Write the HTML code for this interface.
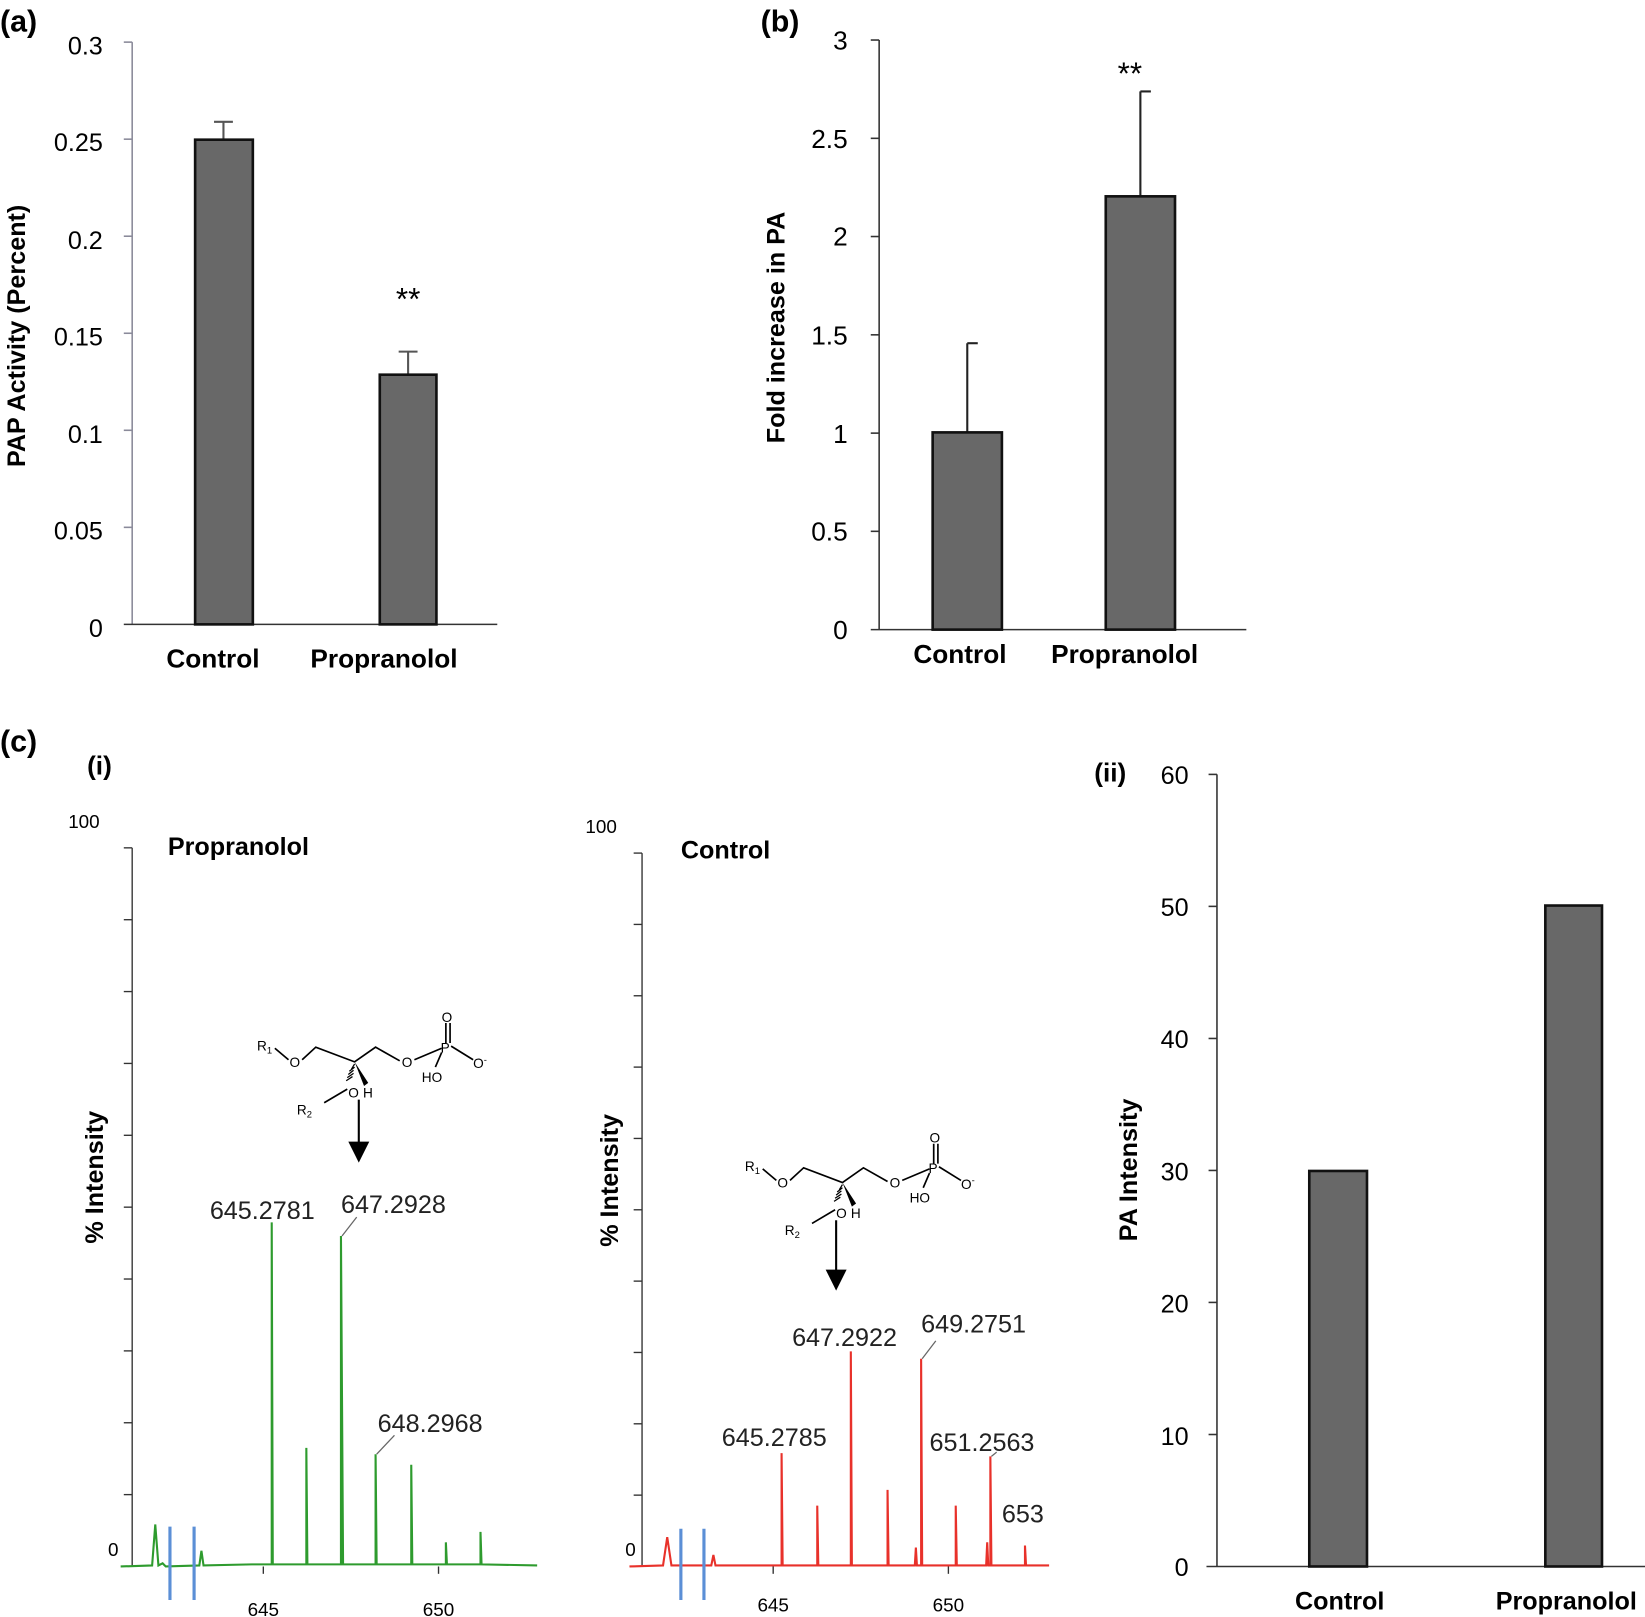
<!DOCTYPE html>
<html><head><meta charset="utf-8"><style>
html,body{margin:0;padding:0;background:#fff;}
svg{display:block;font-family:"Liberation Sans",sans-serif;}
.b{font-weight:bold;}
</style></head><body>
<svg width="1645" height="1617" viewBox="0 0 1568 1541" xmlns="http://www.w3.org/2000/svg">
<defs>
<g id="mol" font-size="13" fill="#000" stroke="none">
  <text x="0" y="36">R<tspan font-size="9" dy="3">1</tspan></text>
  <path d="M17 34 L30 45 M43 45 L56 33 L93 47 L113 33 L136 46 M150 45 L176 34 M185 32 L206 45 M180 29 L180 10 M184 29 L184 10 M176 38 L170 52 M86 73 L64 86" stroke="#000" stroke-width="1.6" fill="none"/>
  <text x="31" y="52">O</text>
  <text x="138" y="52">O</text>
  <text x="175" y="38">P</text>
  <text x="176" y="9">O</text>
  <text x="206" y="53">O<tspan font-size="9" dy="-5">-</tspan></text>
  <text x="157" y="66">HO</text>
  <text x="87" y="81">O</text>
  <text x="101" y="81">H</text>
  <text x="38" y="97">R<tspan font-size="9" dy="3">2</tspan></text>
  <path d="M93 47 L102 70 L106 67 Z" fill="#000"/>
  <path d="M93 49 L90 54 M93 52 L88 56 M92 55 L87 59 M92 58 L86 62 M91 61 L85 65" stroke="#000" stroke-width="1.2"/>
</g>
</defs>

<!-- Panel a -->
<text x="0" y="30" class="b" font-size="29">(a)</text>
<g stroke="#8a8a9a" stroke-width="1.5">
<line x1="126" y1="40" x2="126" y2="595"/>
<line x1="118" y1="595" x2="474" y2="595" stroke="#333"/>
<line x1="118" y1="40" x2="126" y2="40"/><line x1="118" y1="132.5" x2="126" y2="132.5"/><line x1="118" y1="225" x2="126" y2="225"/><line x1="118" y1="317.5" x2="126" y2="317.5"/><line x1="118" y1="410" x2="126" y2="410"/><line x1="118" y1="502.5" x2="126" y2="502.5"/>
</g>
<g font-size="24" text-anchor="end">
<text x="98" y="52">0.3</text><text x="98" y="144">0.25</text><text x="98" y="237">0.2</text><text x="98" y="329">0.15</text><text x="98" y="422">0.1</text><text x="98" y="514">0.05</text><text x="98" y="607">0</text>
</g>
<g stroke="#555" stroke-width="2"><line x1="213" y1="133" x2="213" y2="116"/><line x1="204" y1="116" x2="222" y2="116"/><line x1="389" y1="357" x2="389" y2="335"/><line x1="380" y1="335" x2="398" y2="335"/></g>
<rect x="186" y="133" width="55" height="462" fill="#686868" stroke="#111" stroke-width="2.5"/>
<rect x="362" y="357" width="54" height="238" fill="#686868" stroke="#111" stroke-width="2.5"/>
<text x="389" y="295" font-size="30" text-anchor="middle">**</text>
<g class="b" font-size="25" text-anchor="middle"><text x="203" y="636">Control</text><text x="366" y="636">Propranolol</text></g>
<text transform="translate(24,320) rotate(-90)" class="b" font-size="24" text-anchor="middle">PAP Activity (Percent)</text>

<!-- Panel b -->
<text x="725" y="30" class="b" font-size="29">(b)</text>
<g stroke="#333" stroke-width="1.5">
<line x1="838" y1="38" x2="838" y2="600"/>
<line x1="830" y1="600" x2="1188" y2="600"/>
<line x1="830" y1="38" x2="838" y2="38"/><line x1="830" y1="131.7" x2="838" y2="131.7"/><line x1="830" y1="225.3" x2="838" y2="225.3"/><line x1="830" y1="319" x2="838" y2="319"/><line x1="830" y1="412.7" x2="838" y2="412.7"/><line x1="830" y1="506.3" x2="838" y2="506.3"/>
</g>
<g font-size="25" text-anchor="end">
<text x="808" y="47">3</text><text x="808" y="141">2.5</text><text x="808" y="234">2</text><text x="808" y="328">1.5</text><text x="808" y="422">1</text><text x="808" y="515">0.5</text><text x="808" y="609">0</text>
</g>
<g stroke="#222" stroke-width="2"><line x1="922" y1="412" x2="922" y2="327"/><line x1="922" y1="327" x2="932" y2="327"/><line x1="1087" y1="187" x2="1087" y2="87"/><line x1="1087" y1="87" x2="1097" y2="87"/></g>
<rect x="889" y="412" width="66" height="188" fill="#686868" stroke="#111" stroke-width="2.5"/>
<rect x="1054" y="187" width="66" height="413" fill="#686868" stroke="#111" stroke-width="2.5"/>
<text x="1077" y="80" font-size="30" text-anchor="middle">**</text>
<g class="b" font-size="25" text-anchor="middle"><text x="915" y="632">Control</text><text x="1072" y="632">Propranolol</text></g>
<text transform="translate(748,312) rotate(-90)" class="b" font-size="24" text-anchor="middle">Fold increase in PA</text>

<!-- Panel c labels -->
<text x="0" y="716" class="b" font-size="29">(c)</text>
<text x="83" y="738" class="b" font-size="25">(i)</text>
<text x="1043" y="745" class="b" font-size="25">(ii)</text>

<!-- Spectrum left (Propranolol) -->
<g stroke="#333" stroke-width="1.3">
<line x1="126" y1="808" x2="126" y2="1493"/>
<line x1="118" y1="808" x2="126" y2="808"/><line x1="118" y1="876.5" x2="126" y2="876.5"/><line x1="118" y1="945" x2="126" y2="945"/><line x1="118" y1="1013.5" x2="126" y2="1013.5"/><line x1="118" y1="1082" x2="126" y2="1082"/><line x1="118" y1="1150.5" x2="126" y2="1150.5"/><line x1="118" y1="1219" x2="126" y2="1219"/><line x1="118" y1="1287.5" x2="126" y2="1287.5"/><line x1="118" y1="1356" x2="126" y2="1356"/><line x1="118" y1="1424.5" x2="126" y2="1424.5"/>
<line x1="251" y1="1493" x2="251" y2="1500"/><line x1="418" y1="1493" x2="418" y2="1500"/>
</g>
<g stroke="#2e9b2e" stroke-width="2" fill="none">
<polyline points="115,1493 145,1492 148,1453 151,1492 155,1490 158,1493 190,1492 192,1478 194,1492 240,1491 259,1491 259,1165 260,1491 292,1491 292,1380 293,1491 325,1491 325,1178 327,1491 358,1491 358,1386 359,1491 392,1491 392,1396 393,1491 425,1491 425,1470 426,1491 458,1491 458,1460 459,1491 512,1492"/>
</g>
<g stroke="#5b8fd6" stroke-width="3"><line x1="162" y1="1455" x2="162" y2="1525"/><line x1="185" y1="1455" x2="185" y2="1525"/></g>
<g stroke="#666" stroke-width="1.2"><line x1="326" y1="1178" x2="340" y2="1160"/><line x1="359" y1="1386" x2="376" y2="1368"/></g>
<g font-size="24" fill="#222"><text x="200" y="1162">645.2781</text><text x="325" y="1156">647.2928</text><text x="360" y="1365">648.2968</text></g>
<g font-size="18"><text x="65" y="789">100</text><text x="103" y="1483">0</text><text x="251" y="1540" text-anchor="middle">645</text><text x="418" y="1540" text-anchor="middle">650</text></g>
<text x="160" y="815" class="b" font-size="24">Propranolol</text>
<text transform="translate(98,1122) rotate(-90)" class="b" font-size="24" text-anchor="middle">% Intensity</text>
<use href="#mol" transform="translate(245,965)"/>
<line x1="342" y1="1048" x2="342" y2="1090" stroke="#000" stroke-width="2"/>
<path d="M332 1088 L352 1088 L342 1108 Z" fill="#000"/>

<!-- Spectrum right (Control) -->
<g stroke="#333" stroke-width="1.3">
<line x1="612" y1="813" x2="612" y2="1493"/>
<line x1="604" y1="813" x2="612" y2="813"/><line x1="604" y1="881" x2="612" y2="881"/><line x1="604" y1="949" x2="612" y2="949"/><line x1="604" y1="1017" x2="612" y2="1017"/><line x1="604" y1="1085" x2="612" y2="1085"/><line x1="604" y1="1153" x2="612" y2="1153"/><line x1="604" y1="1221" x2="612" y2="1221"/><line x1="604" y1="1289" x2="612" y2="1289"/><line x1="604" y1="1357" x2="612" y2="1357"/><line x1="604" y1="1425" x2="612" y2="1425"/>
<line x1="737" y1="1493" x2="737" y2="1500"/><line x1="904" y1="1493" x2="904" y2="1500"/>
</g>
<g stroke="#e8312a" stroke-width="2" fill="none">
<polyline points="600,1493 632,1492 636,1465 640,1492 678,1492 680,1482 682,1492 745,1492 745,1385 746,1492 779,1492 779,1435 780,1492 811,1492 811,1288 812,1492 846,1492 846,1420 847,1492 872,1492 873,1475 874,1492 878,1492 878,1295 879,1492 911,1492 911,1435 912,1492 940,1492 941,1470 942,1492 944,1492 944,1388 945,1492 977,1492 977,1473 978,1492 1000,1492"/>
</g>
<g stroke="#5b8fd6" stroke-width="3"><line x1="649" y1="1457" x2="649" y2="1525"/><line x1="671" y1="1457" x2="671" y2="1525"/></g>
<g stroke="#666" stroke-width="1.2"><line x1="879" y1="1295" x2="892" y2="1278"/><line x1="945" y1="1388" x2="950" y2="1384"/></g>
<g font-size="24" fill="#222"><text x="688" y="1378">645.2785</text><text x="755" y="1283">647.2922</text><text x="878" y="1270">649.2751</text><text x="886" y="1383">651.2563</text><text x="955" y="1451">653</text></g>
<g font-size="18"><text x="558" y="794">100</text><text x="596" y="1483">0</text><text x="737" y="1536" text-anchor="middle">645</text><text x="904" y="1536" text-anchor="middle">650</text></g>
<text x="649" y="818" class="b" font-size="24">Control</text>
<text transform="translate(589,1125) rotate(-90)" class="b" font-size="24" text-anchor="middle">% Intensity</text>
<use href="#mol" transform="translate(710,1080)"/>
<line x1="797" y1="1163" x2="797" y2="1212" stroke="#000" stroke-width="2"/>
<path d="M787 1210 L807 1210 L797 1230 Z" fill="#000"/>

<!-- Panel ii -->
<g stroke="#333" stroke-width="1.5">
<line x1="1160" y1="738" x2="1160" y2="1493"/>
<line x1="1150" y1="1493" x2="1568" y2="1493"/>
<line x1="1152" y1="738" x2="1160" y2="738"/><line x1="1152" y1="863.8" x2="1160" y2="863.8"/><line x1="1152" y1="989.7" x2="1160" y2="989.7"/><line x1="1152" y1="1115.5" x2="1160" y2="1115.5"/><line x1="1152" y1="1241.3" x2="1160" y2="1241.3"/><line x1="1152" y1="1367.2" x2="1160" y2="1367.2"/>
</g>
<g font-size="24" text-anchor="end">
<text x="1133" y="747">60</text><text x="1133" y="873">50</text><text x="1133" y="999">40</text><text x="1133" y="1125">30</text><text x="1133" y="1251">20</text><text x="1133" y="1377">10</text><text x="1133" y="1502">0</text>
</g>
<rect x="1248" y="1116" width="55" height="377" fill="#686868" stroke="#111" stroke-width="2.5"/>
<rect x="1473" y="863" width="54" height="630" fill="#686868" stroke="#111" stroke-width="2.5"/>
<g class="b" font-size="24" text-anchor="middle"><text x="1277" y="1534">Control</text><text x="1493" y="1534">Propranolol</text></g>
<text transform="translate(1084,1115) rotate(-90)" class="b" font-size="24" text-anchor="middle">PA Intensity</text>
</svg>
</body></html>
